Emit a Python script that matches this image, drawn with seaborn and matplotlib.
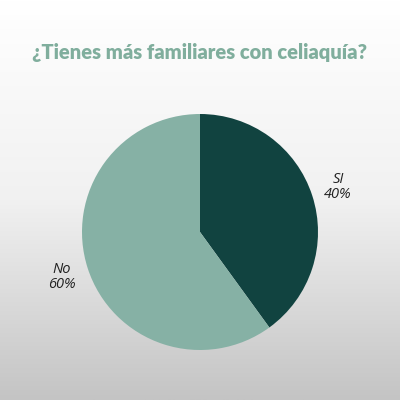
import matplotlib
matplotlib.use("Agg")
import matplotlib.pyplot as plt
import numpy as np
import seaborn as sns

labels = ["SI", "No"]
values = [40, 60]
colors = ["#114340", "#86b1a5"]
title = "¿Tienes más familiares con celiaquía?"

sns.set_theme(style="white")
plt.rcParams["font.family"] = ["Open Sans", "DejaVu Sans"]

fig = plt.figure(figsize=(4, 4), dpi=100)

# grey vertical gradient background
bg = fig.add_axes([0, 0, 1, 1])
grad = np.linspace(0, 1, 256).reshape(-1, 1)
bg.imshow(grad, aspect="auto", cmap=matplotlib.colors.LinearSegmentedColormap.from_list(
    "bg", ["#ffffff", "#f1f1f1", "#c4c4c4"]), extent=[0, 1, 0, 1], origin="upper")
bg.set_axis_off()

ax = fig.add_axes([0.205, 0.125, 0.59, 0.59])
texts = [f"{l}\n{v}%" for l, v in zip(labels, values)]
wedges, label_txt = ax.pie(values, labels=texts, colors=colors, startangle=90,
                           counterclock=False, labeldistance=1.23,
                           wedgeprops=dict(linewidth=0),
                           textprops=dict(fontsize=10.5, style="italic", color="#222222"))
for t in label_txt:
    t.set_ha("center")
    t.set_va("center")
    t.set_linespacing(1.0)
ax.set_xlim(-1, 1)
ax.set_ylim(-1, 1)
ax.set_aspect("equal")

fig.text(0.5, 0.87, title, ha="center", va="center", fontsize=14.5,
         fontweight="heavy", color="#80ae9d", family=["Lato", "DejaVu Sans"])

fig.savefig("out.png", dpi=100)
